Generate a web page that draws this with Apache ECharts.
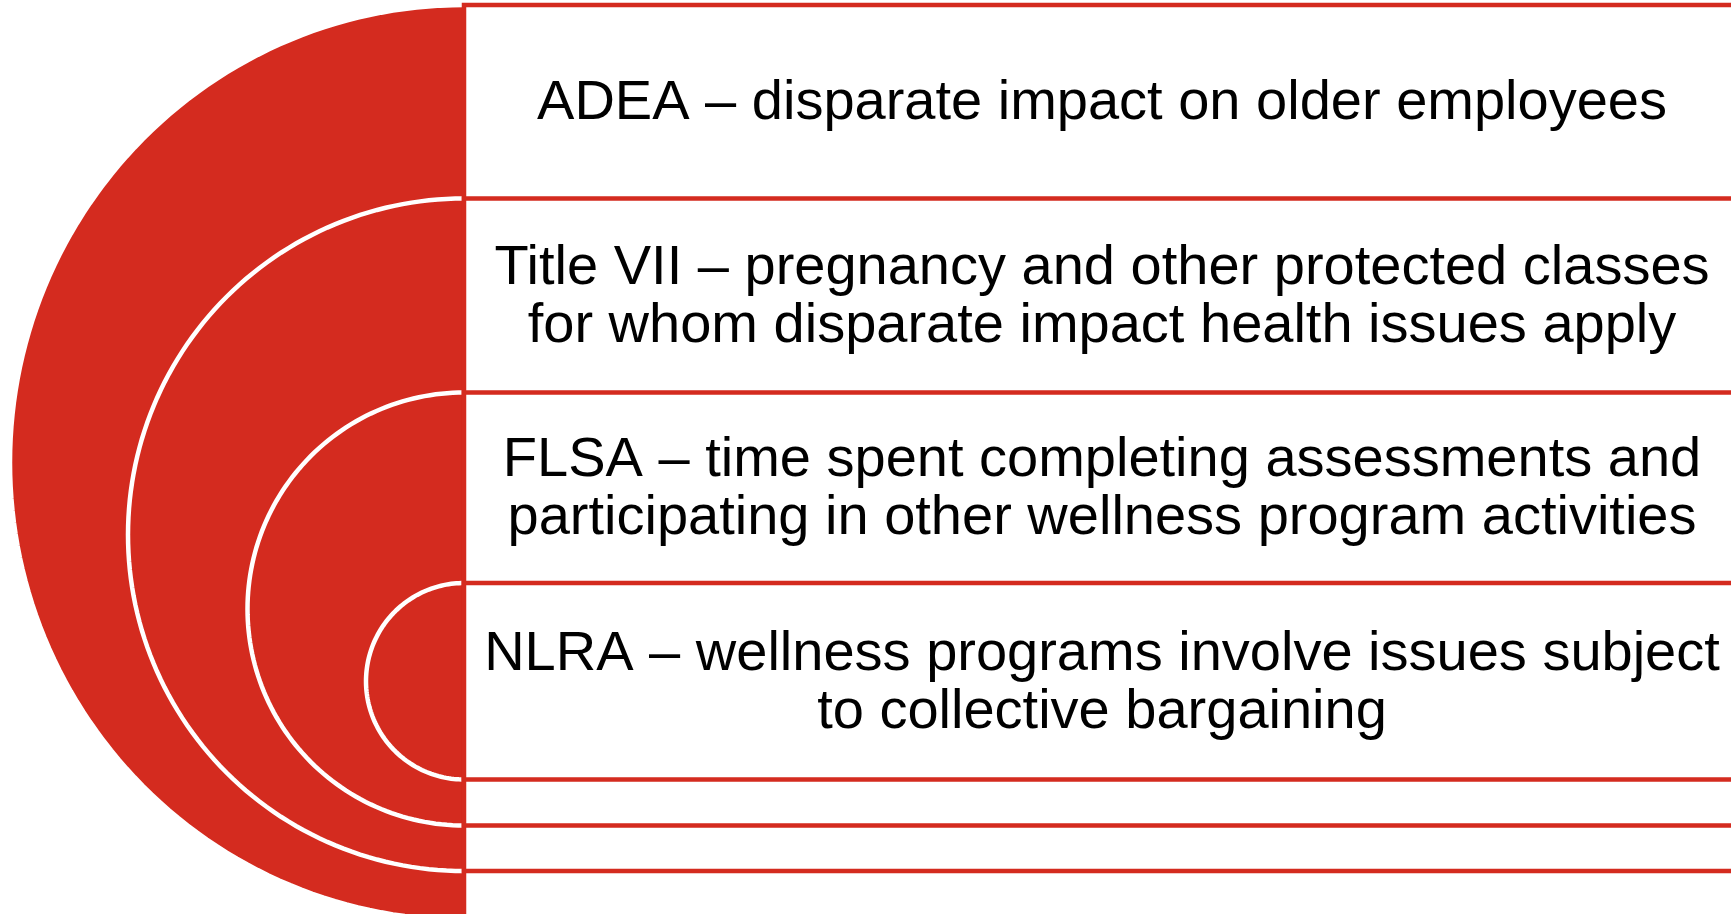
<!DOCTYPE html>
<html>
<head>
<meta charset="utf-8">
<script src="https://cdn.jsdelivr.net/npm/echarts@6/dist/echarts.min.js"></script>
<style>
  html, body { margin: 0; padding: 0; background: #fff; }
  #chart { width: 1731px; height: 914px; }
</style>
</head>
<body>
<div id="chart"></div>
<script>
// texts, outermost ring first
var labels = [
  'ADEA – disparate impact on older employees',
  'Title VII – pregnancy and other protected classes\nfor whom disparate impact health issues apply',
  'FLSA – time spent completing assessments and\nparticipating in other wellness program activities',
  'NLRA – wellness programs involve issues subject\nto collective bargaining'
];
// ring extents in axis units (x runs 0..1731, y runs 0..914 downwards)
var ringTop = [5, 198.5, 392.5, 583];
var ringBottom = [920, 871, 825.5, 779.5];
var ringLeft = [10, 128, 247.5, 366];
var spineX = 464;
var boxRight = 1740;

var red = '#D42B1F';

var myChart = echarts.init(document.getElementById('chart'));

var ringData = labels.map(function (t, i) {
  return [ringLeft[i], ringTop[i], ringBottom[i], i];
});

function renderRing(params, api) {
  var top = api.coord([spineX, api.value(1)]);
  var bottom = api.coord([spineX, api.value(2)]);
  var left = api.coord([api.value(0), 0]);
  var cx = top[0];
  var cy = (top[1] + bottom[1]) / 2;
  var ry = (bottom[1] - top[1]) / 2;
  var rx = cx - left[0];
  var pts = [];
  for (var k = 0; k <= 120; k++) {
    var t = Math.PI * k / 120;
    pts.push([cx - rx * Math.sin(t), cy - ry * Math.cos(t)]);
  }
  return {
    type: 'group',
    children: [
      { type: 'polygon', shape: { points: pts }, style: { fill: red } },
      { type: 'polyline', shape: { points: pts }, style: { fill: null, stroke: '#fff', lineWidth: 4.5 } }
    ]
  };
}

function renderBox(params, api) {
  var a = api.coord([spineX, api.value(1)]);
  var b = api.coord([boxRight, api.value(2)]);
  return {
    type: 'rect',
    shape: { x: a[0], y: a[1], width: b[0] - a[0], height: b[1] - a[1] },
    style: { fill: '#fff', stroke: red, lineWidth: 4.5 }
  };
}

function renderLabel(params, api) {
  var i = api.value(3);
  var nextTop = i + 1 < ringTop.length ? ringTop[i + 1] : ringBottom[i];
  var p = api.coord([(spineX + boxRight) / 2, (ringTop[i] + nextTop) / 2]);
  return {
    type: 'text',
    style: {
      text: labels[i],
      x: p[0],
      y: p[1] + 2, // small nudge, text sits a bit low in the boxes
      align: 'center',
      verticalAlign: 'middle',
      fontFamily: 'Liberation Sans, Arial, sans-serif',
      fontSize: 56,
      lineHeight: 58,
      fill: '#000'
    }
  };
}

var option = {
  animation: false,
  grid: { left: 0, right: 0, top: 0, bottom: 0 },
  xAxis: { type: 'value', min: 0, max: 1731, show: false },
  yAxis: { type: 'value', min: 0, max: 914, inverse: true, show: false },
  series: [
    { type: 'custom', z: 2, renderItem: renderRing, data: ringData, silent: true },
    { type: 'custom', z: 3, renderItem: renderBox, data: ringData, silent: true },
    { type: 'custom', z: 4, renderItem: renderLabel, data: ringData, silent: true }
  ]
};

myChart.setOption(option);
</script>
</body>
</html>
